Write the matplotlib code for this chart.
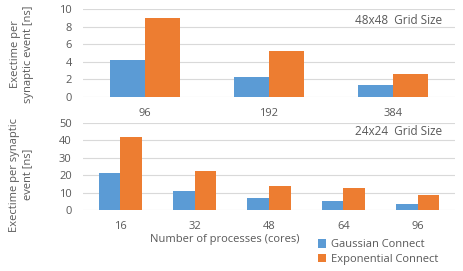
import matplotlib
matplotlib.use('Agg')
import matplotlib.pyplot as plt
import numpy as np

# 48x48 grid
procs_48 = ['96', '192', '384']
gauss_48 = [4.2, 2.3, 1.4]
expo_48 = [9.0, 5.2, 2.6]

# 24x24 grid
procs_24 = ['16', '32', '48', '64', '96']
gauss_24 = [21.4, 11.0, 7.0, 5.2, 3.4]
expo_24 = [42.0, 22.4, 13.8, 12.6, 8.6]

series_names = ['Gaussian Connect', 'Exponential Connect']
c_blue = '#5B9BD5'
c_orange = '#ED7D31'
grey = '#595959'

plt.rcParams['font.family'] = ['Open Sans', 'DejaVu Sans']
fs = 8


def bar_panel(ax, cats, g, e, ymax, step, width, title, title_y):
    x = np.arange(len(cats))
    ax.bar(x - width / 2, g, width, color=c_blue, zorder=3, label=series_names[0])
    ax.bar(x + width / 2, e, width, color=c_orange, zorder=3, label=series_names[1])
    ax.set_xlim(-0.5, len(cats) - 0.5)
    ax.set_ylim(0, ymax)
    ax.set_yticks(np.arange(0, ymax + step / 2, step))
    ax.set_xticks(x)
    ax.set_xticklabels(cats)
    ax.yaxis.grid(True, color='#D9D9D9', linewidth=0.8, zorder=0)
    for s in ax.spines.values():
        s.set_visible(False)
    ax.tick_params(length=0, colors=grey, labelsize=fs)
    ax.tick_params(axis='x', pad=8)
    ax.tick_params(axis='y', pad=8)
    ax.text(0.965, title_y, title, transform=ax.transAxes, ha='right', va='center',
            color=grey, fontsize=8.5)


fig = plt.figure(figsize=(4.63, 2.71), dpi=100)
ax1 = fig.add_axes([0.179, 0.642, 0.804, 0.325])
ax2 = fig.add_axes([0.179, 0.225, 0.804, 0.321])

bar_panel(ax1, procs_48, gauss_48, expo_48, 10, 2, 0.285, '48x48  Grid Size', 0.87)
bar_panel(ax2, procs_24, gauss_24, expo_24, 50, 10, 0.29, '24x24  Grid Size', 0.9)

fig.text(0.047, 0.80, 'Exectime per\nsynaptic event [ns]', rotation=90, ha='center',
         va='center', color=grey, fontsize=fs, multialignment='center', linespacing=1.25)
fig.text(0.045, 0.355, 'Exectime per synaptic\nevent [ns]', rotation=90, ha='center',
         va='center', color=grey, fontsize=fs, multialignment='center', linespacing=1.25)
fig.text(0.485, 0.118, 'Number of processes (cores)', ha='center', va='center',
         color=grey, fontsize=fs)

handles, labels = ax2.get_legend_handles_labels()
fig.legend(handles, labels, loc='center left', bbox_to_anchor=(0.665, 0.07),
           frameon=False, fontsize=fs, labelcolor=grey, handlelength=0.75,
           handleheight=0.75, handletextpad=0.4, labelspacing=0.3)

fig.savefig('out.png', dpi=100)
